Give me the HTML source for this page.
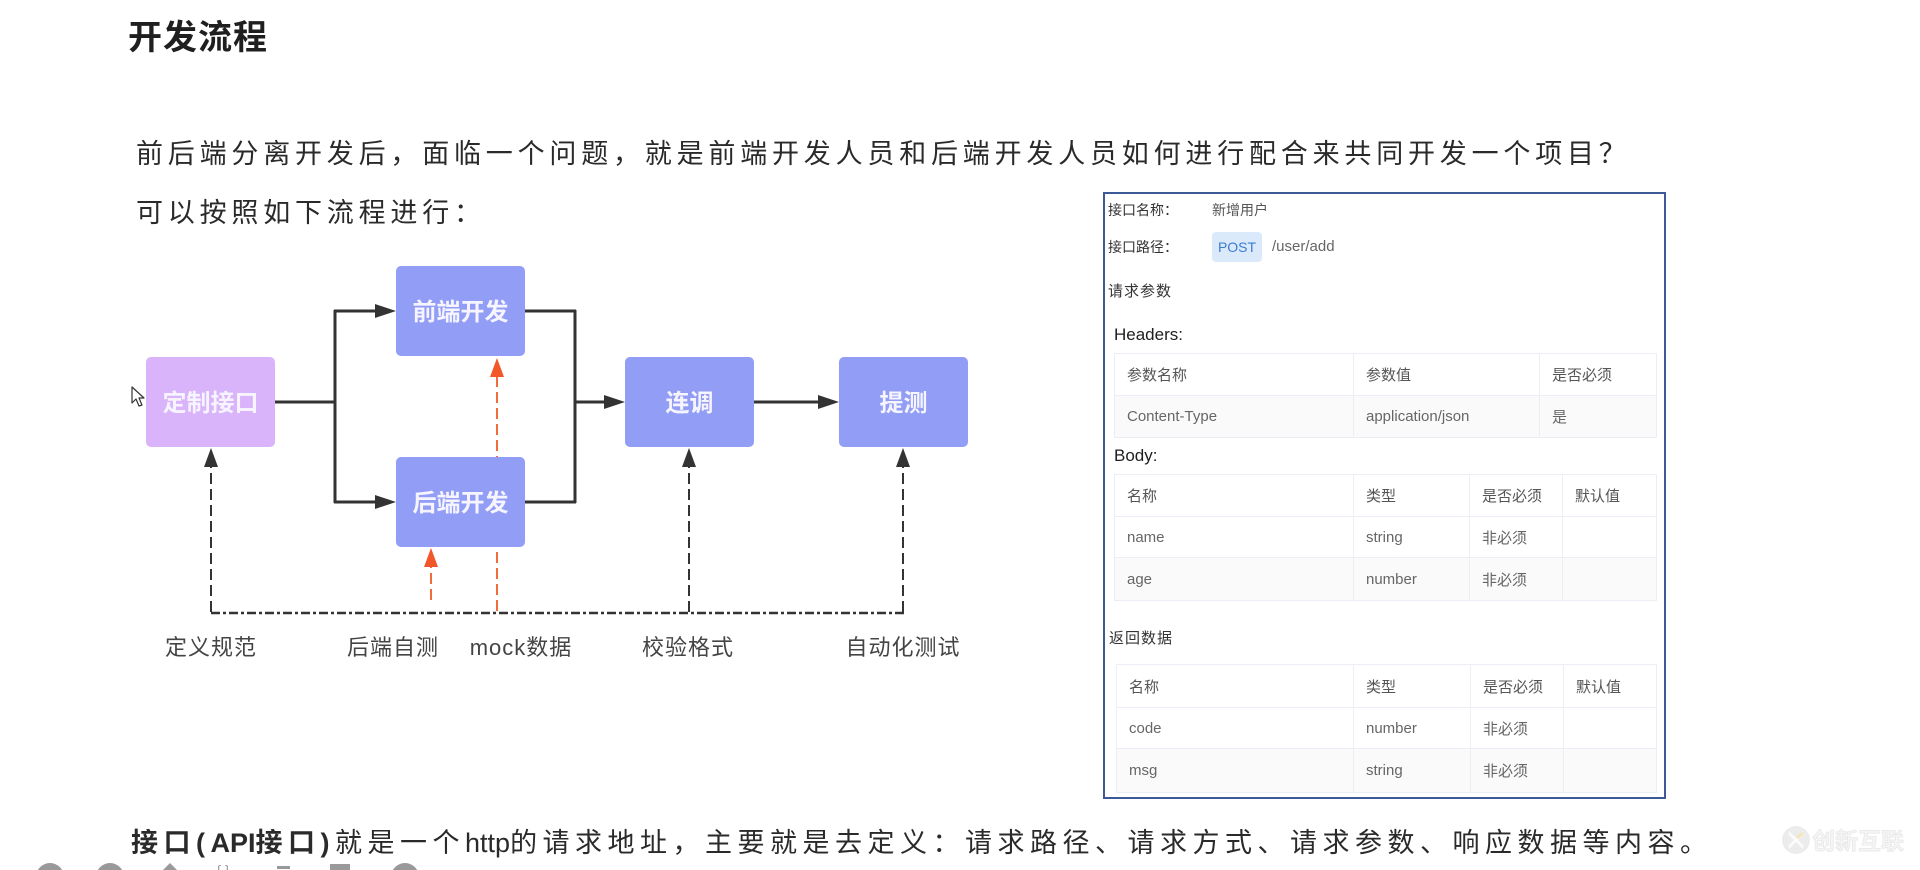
<!DOCTYPE html>
<html>
<head>
<meta charset="utf-8">
<style>
  html,body{margin:0;padding:0;background:#fff;}
  body{width:1920px;height:870px;position:relative;overflow:hidden;font-family:"Liberation Sans","Noto Sans CJK SC",sans-serif;}
  .abs{position:absolute;white-space:nowrap;}
  .title{left:128px;top:18px;font-size:34px;line-height:40px;font-weight:bold;color:#1f1f1f;letter-spacing:1px;}
  .para{font-size:27px;line-height:40px;color:#2a2a2a;letter-spacing:4.8px;}
  .lat{letter-spacing:0;}
  .panel{left:1103px;top:192px;width:563px;height:607px;box-sizing:border-box;border:2px solid #3d5a96;background:#fff;}
  .pl{font-size:14px;line-height:20px;color:#333;}
  table{position:absolute;border-collapse:collapse;table-layout:fixed;font-size:15px;}
  td{border:1px solid #ebeef5;padding:0 0 0 12px;color:#666;white-space:nowrap;overflow:hidden;}
  tr.h td{color:#555;}
  tr.g td{background:#fafafa;}
</style>
</head>
<body>

<div class="abs title">开发流程</div>
<div class="abs para" style="left:136px;top:134px;">前后端分离开发后，面临一个问题，就是前端开发人员和后端开发人员如何进行配合来共同开发一个项目？</div>
<div class="abs para" style="left:136px;top:193px;">可以按照如下流程进行：</div>
<div class="abs para" style="left:131px;top:823px;letter-spacing:5.5px;"><b>接口(<span class="lat">API</span>接口)</b>就是一个<span class="lat">http</span>的请求地址，主要就是去定义：请求路径、请求方式、请求参数、响应数据等内容。</div>

<!-- API panel -->
<div class="abs panel"></div>
<div class="abs pl" style="left:1108px;top:200px;">接口名称：</div>
<div class="abs pl" style="left:1212px;top:200px;color:#555;">新增用户</div>
<div class="abs pl" style="left:1108px;top:237px;">接口路径：</div>
<div class="abs" style="left:1212px;top:232px;width:50px;height:30px;background:#dbeafb;border-radius:4px;color:#3b7bd0;font-size:14px;line-height:30px;text-align:center;">POST</div>
<div class="abs pl" style="left:1272px;top:237px;color:#666;font-size:15px;">/user/add</div>
<div class="abs pl" style="left:1108px;top:282px;font-size:15px;letter-spacing:1px;">请求参数</div>
<div class="abs" style="left:1114px;top:324px;font-size:17px;line-height:22px;color:#1e1e1e;">Headers:</div>

<table style="left:1114px;top:353px;width:542px;">
  <colgroup><col style="width:239px"><col style="width:186px"><col style="width:117px"></colgroup>
  <tr class="h" style="height:42px"><td>参数名称</td><td>参数值</td><td>是否必须</td></tr>
  <tr class="g" style="height:42px"><td>Content-Type</td><td>application/json</td><td>是</td></tr>
</table>

<div class="abs" style="left:1114px;top:445px;font-size:17px;line-height:22px;color:#1e1e1e;">Body:</div>

<table style="left:1114px;top:474px;width:542px;">
  <colgroup><col style="width:239px"><col style="width:116px"><col style="width:93px"><col style="width:94px"></colgroup>
  <tr class="h" style="height:42px"><td>名称</td><td>类型</td><td>是否必须</td><td>默认值</td></tr>
  <tr style="height:41px"><td>name</td><td>string</td><td>非必须</td><td></td></tr>
  <tr class="g" style="height:43px"><td>age</td><td>number</td><td>非必须</td><td></td></tr>
</table>

<div class="abs pl" style="left:1109px;top:629px;font-size:15px;letter-spacing:1px;">返回数据</div>

<table style="left:1116px;top:664px;width:540px;">
  <colgroup><col style="width:237px"><col style="width:117px"><col style="width:93px"><col style="width:93px"></colgroup>
  <tr class="h" style="height:43px"><td>名称</td><td>类型</td><td>是否必须</td><td>默认值</td></tr>
  <tr style="height:41px"><td>code</td><td>number</td><td>非必须</td><td></td></tr>
  <tr class="g" style="height:44px"><td>msg</td><td>string</td><td>非必须</td><td></td></tr>
</table>

<!-- Diagram -->
<svg class="abs" style="left:0;top:0;" width="1920" height="870" viewBox="0 0 1920 870" xmlns="http://www.w3.org/2000/svg">
  <!-- red dashed lines (behind boxes) -->
  <g stroke="#f26b3a" stroke-width="2" fill="none" stroke-dasharray="11 5">
    <line x1="497" y1="611" x2="497" y2="376"/>
    <line x1="431" y1="600" x2="431" y2="566"/>
  </g>
  <g fill="#f2572a">
    <polygon points="490,377 504,377 497,358"/>
    <polygon points="424,567 438,567 431,548"/>
  </g>

  <!-- black dashed verticals -->
  <g stroke="#333" stroke-width="2" fill="none" stroke-dasharray="11 5">
    <line x1="211" y1="612" x2="211" y2="466"/>
    <line x1="689" y1="612" x2="689" y2="466"/>
    <line x1="903" y1="612" x2="903" y2="466"/>
  </g>
  <g fill="#333">
    <polygon points="204,467 218,467 211,448"/>
    <polygon points="682,467 696,467 689,448"/>
    <polygon points="896,467 910,467 903,448"/>
  </g>
  <!-- dash-dot baseline -->
  <line x1="211" y1="613" x2="904" y2="613" stroke="#333" stroke-width="2.5" stroke-dasharray="9 3 3 3"/>

  <!-- solid connectors -->
  <g stroke="#333" stroke-width="3" fill="none">
    <line x1="275" y1="402" x2="336" y2="402"/>
    <line x1="335" y1="310" x2="335" y2="503"/>
    <line x1="334" y1="311" x2="378" y2="311"/>
    <line x1="334" y1="502" x2="378" y2="502"/>
    <line x1="525" y1="311" x2="576" y2="311"/>
    <line x1="525" y1="502" x2="576" y2="502"/>
    <line x1="575" y1="310" x2="575" y2="503"/>
    <line x1="575" y1="402" x2="606" y2="402"/>
    <line x1="754" y1="402" x2="820" y2="402"/>
  </g>
  <g fill="#333">
    <polygon points="375,304 375,318 396,311"/>
    <polygon points="375,495 375,509 396,502"/>
    <polygon points="604,395 604,409 625,402"/>
    <polygon points="818,395 818,409 839,402"/>
  </g>

  <!-- boxes -->
  <rect x="146" y="357" width="129" height="90" rx="5" fill="#d9b4fa"/>
  <rect x="396" y="266" width="129" height="90" rx="5" fill="#929ef6"/>
  <rect x="396" y="457" width="129" height="90" rx="5" fill="#929ef6"/>
  <rect x="625" y="357" width="129" height="90" rx="5" fill="#929ef6"/>
  <rect x="839" y="357" width="129" height="90" rx="5" fill="#929ef6"/>

  <g font-family="Liberation Sans, Noto Sans CJK SC, sans-serif" font-weight="bold" font-size="24" fill="#f6f4ff" text-anchor="middle">
    <text x="210.5" y="411">定制接口</text>
    <text x="460.5" y="320">前端开发</text>
    <text x="460.5" y="511">后端开发</text>
    <text x="689.5" y="411">连调</text>
    <text x="903.5" y="411">提测</text>
  </g>

  <!-- labels -->
  <g font-family="Liberation Sans, Noto Sans CJK SC, sans-serif" font-size="22" fill="#444" text-anchor="middle" letter-spacing="1">
    <text x="211" y="655">定义规范</text>
    <text x="393" y="655">后端自测</text>
    <text x="521" y="655">mock数据</text>
    <text x="688" y="655">校验格式</text>
    <text x="903" y="655">自动化测试</text>
  </g>

  <!-- cursor -->
  <polygon points="132,387 132,403 136,399 139,406 142,405 139,398 144,398" fill="#fff" stroke="#333" stroke-width="1.2" stroke-linejoin="round"/>

  <!-- bottom toolbar icons (cut off) -->
  <g fill="#999">
    <circle cx="50" cy="877" r="14"/>
    <circle cx="110" cy="877" r="14"/>
    <polygon points="170,863 160,873 180,873"/>
    <circle cx="405" cy="877" r="14"/>
    <rect x="330" y="864" width="20" height="8"/>
    <rect x="277" y="866" width="13" height="3"/>
  </g>
  <text x="223" y="875" font-family="Liberation Sans, sans-serif" font-size="14" fill="#999" text-anchor="middle">{ }</text>

  <!-- watermark -->
  <circle cx="1796" cy="840" r="14" fill="#ececec"/>
  <path d="M1789 833 L1803 847 M1803 833 L1789 847" stroke="#fbfbfb" stroke-width="3"/>
  <path d="M1797 838 L1803 833" stroke="#f3e6bb" stroke-width="3"/>
  <text x="1812" y="849" font-family="Liberation Sans, Noto Sans CJK SC, sans-serif" font-size="23" font-weight="bold" fill="#f5f5f5" stroke="#e6e6e6" stroke-width="0.7">创新互联</text>
</svg>

</body>
</html>
